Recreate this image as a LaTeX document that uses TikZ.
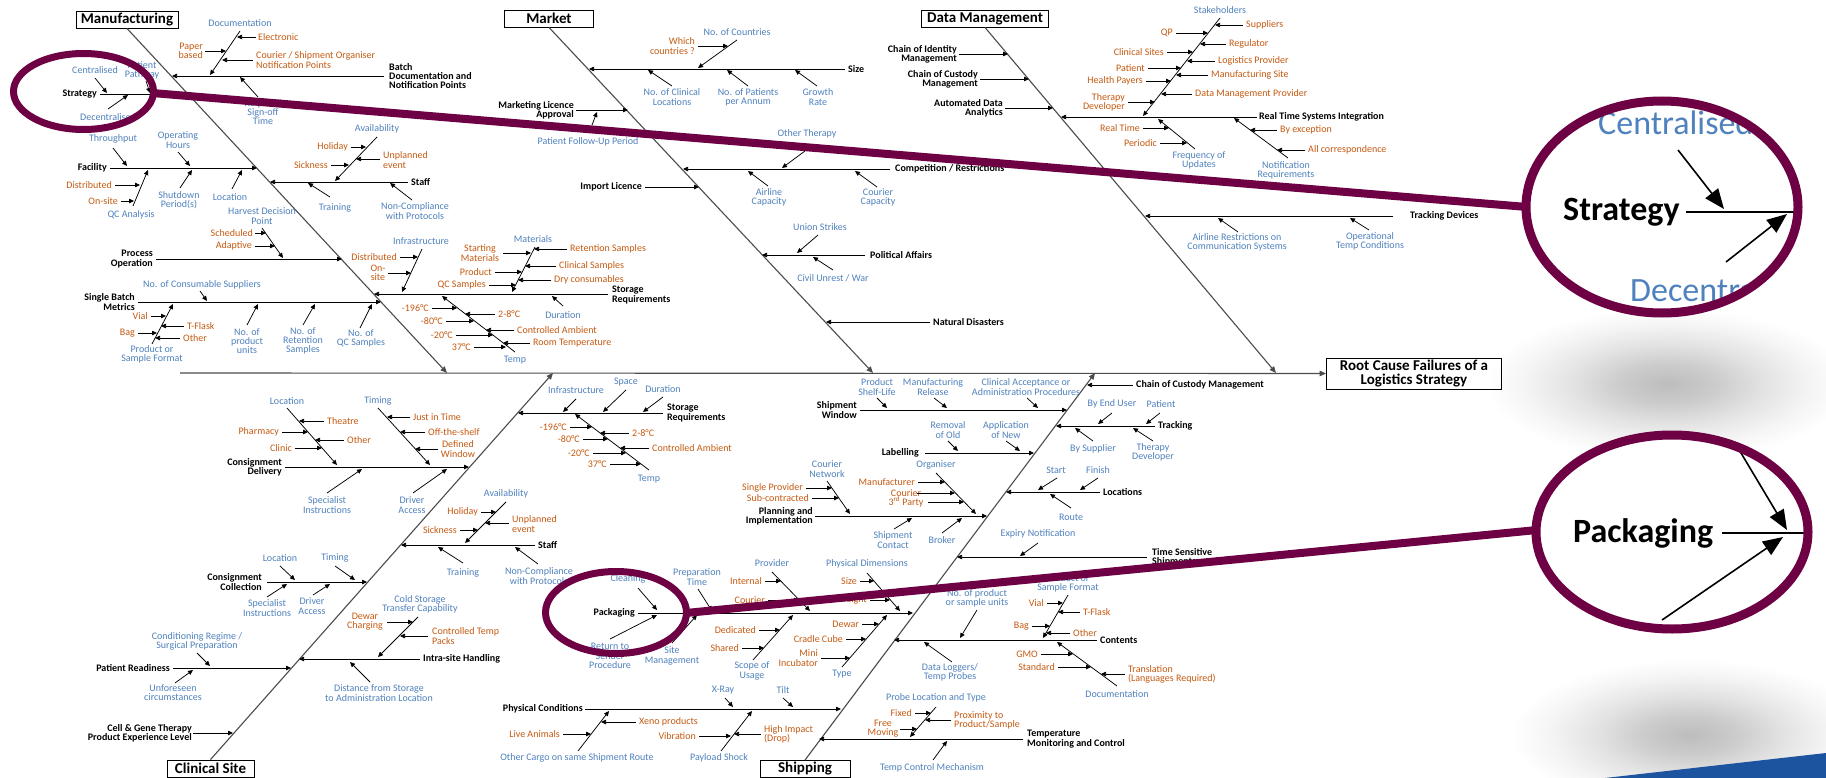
\documentclass[tikz,border=0pt]{standalone}
\usepackage{fontspec}
\setmainfont{Carlito}
\usetikzlibrary{arrows.meta}
\definecolor{cblue}{RGB}{79,129,189}
\definecolor{corange}{RGB}{197,90,17}
\definecolor{cmag}{RGB}{110,0,68}
\definecolor{cband}{RGB}{28,84,160}
\pgfdeclareradialshading{blob}{\pgfpoint{0bp}{0bp}}{color(0bp)=(black!26); color(5bp)=(black!20); color(10bp)=(black!11); color(15bp)=(black!4); color(19bp)=(white); color(25bp)=(white); color(50bp)=(white)}
% label: style, name, position, text
\newcommand\Tx[4]{\node[#1] (#2) at (#3) {#4};}
% arrow between two named coordinates
\newcommand\Ar[3]{\coordinate (#1-s) at (#2);\coordinate (#1-e) at (#3);\draw[arr] (#1-s) -- (#1-e);}
\begin{document}
\begin{tikzpicture}[x=1pt,y=-1pt,
  bl/.style={inner sep=0pt,text=cblue,font={\fontsize{10}{9.2}\selectfont}},
  og/.style={inner sep=0pt,text=corange,font={\fontsize{10}{9.2}\selectfont}},
  bk/.style={inner sep=0pt,text=black,font={\bfseries\fontsize{10}{9.2}\selectfont}},
  ae/.style={anchor=east,align=right},
  aw/.style={anchor=west,align=left},
  ac/.style={anchor=center,align=center},
  arr/.style={-{Triangle[length=5pt,width=4.5pt]},line width=0.75pt},
  bone/.style={-{Triangle[length=6.5pt,width=5.5pt]},line width=1.1pt,draw=black!70},
  ttl/.style={draw,line width=0.9pt,font={\bfseries\fontsize{15}{15}\selectfont},inner sep=0pt,minimum height=17pt},
  bigarr/.style={-{Triangle[length=20pt,width=16pt]},line width=1.6pt},
  lens/.style={draw=cmag,line width=9pt},
  ring/.style={draw=cmag,line width=7pt},
  link/.style={draw=cmag,line width=8pt}]
\useasboundingbox (0,0) rectangle (1826,778);
\fill[white] (0,0) rectangle (1826,778);

% soft shadows and corner band
\shade[shading=blob] (1668,384) ellipse [x radius=240, y radius=100];
\shade[shading=blob] (1690,735) ellipse [x radius=235, y radius=100];
\fill[cband] (1605,778) -- (1826,753) -- (1826,778) -- cycle;

% ===== spine and effect box =====
\node[ttl,minimum width=175pt,minimum height=31pt,align=center,font={\bfseries\fontsize{15}{14}\selectfont}] (root) at (1414,373.5) {Root Cause Failures of a\\Logistics Strategy};
\coordinate (spine-s) at (180,373);
\draw[bone] (spine-s) -- (root.west);

% ===== category boxes and main bones =====
\node[ttl,minimum width=102pt] (manuf) at (127,19.5) {Manufacturing};
\coordinate (manuf-end) at (447,373);
\draw[bone] (manuf.south) -- (manuf-end);
\node[ttl,minimum width=89pt] (market) at (549,18.5) {Market};
\coordinate (market-end) at (873,373);
\draw[bone] (market.south) -- (market-end);
\node[ttl,minimum width=127pt] (dm) at (985,18.5) {Data Management};
\coordinate (dm-end) at (1276,373);
\draw[bone] (dm.south) -- (dm-end);
\node[ttl,minimum width=87pt] (clin) at (210.5,768.5) {Clinical Site};
\coordinate (clin-end) at (553,373);
\draw[bone] (clin.north) -- (clin-end);
\node[ttl,minimum width=90pt] (ship) at (805,769) {Shipping};
\coordinate (ship-end) at (1095,373);
\draw[bone] (ship.north) -- (ship-end);

% ===== Manufacturing =====
\Tx{bk,aw}{batch}{389,76}{Batch\\Documentation and\\Notification Points}
\Ar{batchl}{384,76}{172,76}
\Tx{bl,ac}{docu}{240,23}{Documentation}
\Ar{docul}{240,31}{210,75}
\Tx{og,aw}{elec}{258,37}{Electronic}
\Ar{elecl}{256,37}{237,37}
\Tx{og,ae}{paper}{203,51}{Paper\\based}
\Ar{paperl}{205,51}{226,51}
\Tx{og,aw}{cour}{256,60}{Courier / Shipment Organiser\\Notification Points}
\Ar{courl}{253,60}{222,60}
\Tx{bl,ac}{signoff}{263,112}{Required\\Sign-off\\Time}
\Ar{signoffl}{258,97}{240,77}

\Tx{bk,ae}{strat}{97,94}{Strategy}
\Ar{stratl}{100,94}{189,94}
\Tx{bl,ac}{central}{95,70}{Centralised}
\Ar{centrall}{95,78}{107,93}
\Tx{bl,ac}{decent}{108,117}{Decentralised}
\Ar{decentl}{108,109}{128,95}
\Tx{bl,ac}{pathw}{142,70}{Patient\\Pathway}
\Ar{pathwl}{146,81}{150,93}

\Tx{bk,ae}{facil}{107,168}{Facility}
\Ar{facill}{110,168}{257,168}
\Tx{bl,ac}{thru}{113,139}{Throughput}
\Ar{thrul}{113,148}{127,166}
\Tx{bl,ac}{ophrs}{178,140}{Operating\\Hours}
\Ar{ophrsl}{178,152}{190,166}
\Tx{bl,ac}{shut}{179,200}{Shutdown\\Period(s)}
\Ar{shutl}{180,188}{192,170}
\Tx{bl,ac}{floc}{230,197}{Location}
\Ar{flocl}{232,189}{242,170}
\Tx{bl,ac}{qca}{131,215}{QC Analysis}
\Ar{qcal}{133,206}{148,170}
\Tx{og,ae}{fdist}{112,185}{Distributed}
\Ar{fdistl}{115,185}{140,185}
\Tx{og,ae}{fons}{118,201}{On-site}
\Ar{fonsl}{121,201}{134,201}

\Tx{bk,aw}{mstaff}{411,182}{Staff}
\Ar{mstaffl}{408,182}{270,182}
\Tx{bl,ac}{mtrain}{335,208}{Training}
\Ar{mtrainl}{330,197}{308,183}
\Tx{bl,ac}{mnonc}{415,211}{Non-Compliance\\with Protocols}
\Ar{mnoncl}{412,200}{390,183}
\Tx{bl,ac}{mavail}{377,129}{Availability}
\Ar{mavaill}{377,137}{335,181}
\Tx{og,ae}{mhol}{348,147}{Holiday}
\Ar{mholl}{351,147}{366,147}
\Tx{og,ae}{msick}{328,165}{Sickness}
\Ar{msickl}{331,165}{349,165}
\Tx{og,aw}{munpl}{383,160}{Unplanned\\event}
\Ar{munpll}{380,159}{356,159}

\Tx{bk,ae}{proc}{153,259}{Process\\Operation}
\Ar{procl}{156,259}{342,259}
\Tx{bl,ac}{harv}{262,216}{Harvest Decision\\Point}
\Ar{harvl}{262,228}{283,258}
\Tx{og,ae}{sched}{253,233}{Scheduled}
\Ar{schedl}{255,233}{266,233}
\Tx{og,ae}{adapt}{252,246}{Adaptive}
\Ar{adaptl}{255,246}{275,246}

\Tx{bk,aw}{mstor}{612,295}{Storage\\Requirements}
\Ar{mstorl}{608,294}{374,294}
\Tx{bl,ac}{minfra}{421,241}{Infrastructure}
\Ar{minfral}{422,249}{402,292}
\Tx{og,ae}{mdist}{397,257}{Distributed}
\Ar{mdistl}{400,257}{418,257}
\Tx{og,ac}{mons}{378,273}{On-\\site}
\Ar{monsl}{388,273}{411,273}
\Tx{bl,ac}{mmat}{533,239}{Materials}
\Ar{mmatl}{535,247}{512,292}
\Tx{og,ac}{mstart}{480,253}{Starting\\Materials}
\Ar{mstartl}{503,253}{531,253}
\Tx{og,aw}{mret}{570,249}{Retention Samples}
\Ar{mretl}{567,249}{534,249}
\Tx{og,aw}{mclin}{559,266}{Clinical Samples}
\Ar{mclinl}{556,266}{525,266}
\Tx{og,ae}{mprod}{492,272}{Product}
\Ar{mprodl}{495,272}{522,272}
\Tx{og,aw}{mdry}{554,280}{Dry consumables}
\Ar{mdryl}{551,280}{518,280}
\Tx{og,ae}{mqcs}{486,285}{QC Samples}
\Ar{mqcsl}{489,285}{516,285}
\Tx{bl,ac}{mdur}{563,315}{Duration}
\Ar{mdurl}{563,306}{552,296}
\Tx{bl,ac}{mtemp}{515,360}{Temp}
\Ar{mtempl}{515,352}{442,296}
\Tx{og,ae}{m196}{429,308}{-196°C}
\Ar{m196l}{432,308}{457,308}
\Tx{og,aw}{m28}{498,314}{2-8°C}
\Ar{m28l}{495,314}{465,314}
\Tx{og,ae}{m80}{443,321}{-80°C}
\Ar{m80l}{446,321}{474,321}
\Tx{og,aw}{mamb}{517,330}{Controlled Ambient}
\Ar{mambl}{514,330}{486,330}
\Tx{og,ae}{m20}{453,335}{-20°C}
\Ar{m20l}{456,335}{493,335}
\Tx{og,aw}{mroom}{533,343}{Room Temperature}
\Ar{mrooml}{530,343}{503,343}
\Tx{og,ae}{m37}{471,347}{37°C}
\Ar{m37l}{474,347}{506,347}

\Tx{bk,ae}{single}{135,302}{Single Batch\\Metrics}
\Ar{singlel}{138,302}{381,302}
\Tx{bl,ac}{ncons}{202,285}{No. of Consumable Suppliers}
\Ar{nconsl}{200,291}{207,301}
\Tx{bl,ac}{nprod}{247,341}{No. of\\product\\units}
\Ar{nprodl}{247,325}{258,304}
\Tx{bl,ac}{nret}{303,341}{No. of\\Retention\\Samples}
\Ar{nretl}{303,325}{315,304}
\Tx{bl,ac}{nqc}{361,338}{No. of\\QC Samples}
\Ar{nqcl}{360,328}{372,304}
\Tx{bl,ac}{mpsf}{152,354}{Product or\\Sample Format}
\Ar{mpsfl}{152,344}{173,304}
\Tx{og,ae}{mvial}{148,316}{Vial}
\Ar{mviall}{151,316}{166,316}
\Tx{og,aw}{mtfl}{187,326}{T-Flask}
\Ar{mtfll}{184,326}{161,326}
\Tx{og,ae}{mbag}{135,333}{Bag}
\Ar{mbagl}{138,333}{157,333}
\Tx{og,aw}{moth}{183,338}{Other}
\Ar{mothl}{180,338}{155,338}

% ===== Market =====
\Tx{bk,aw}{size}{848,69}{Size}
\Ar{sizel}{845,69}{589,69}
\Tx{bl,ac}{ncountry}{737,32}{No. of Countries}
\Ar{ncountryl}{737,40}{698,68}
\Tx{og,ae}{which}{695,46}{Which\\countries ?}
\Ar{whichl}{698,46}{728,46}
\Tx{bl,ac}{nclin}{672,97}{No. of Clinical\\Locations}
\Ar{nclinl}{672,86}{648,70}
\Tx{bl,ac}{npat}{748,97}{No. of Patients\\per Annum}
\Ar{npatl}{748,86}{727,70}
\Tx{bl,ac}{growth}{818,97}{Growth\\Rate}
\Ar{growthl}{817,86}{795,70}

\Tx{bk,ae}{mla}{574,110}{Marketing Licence\\Approval}
\Ar{mlal}{576,110}{628,110}
\Tx{bl,ac}{pfup}{588,142}{Patient Follow-Up Period}
\Ar{pfupl}{592,125}{597,112}

\Tx{bk,aw}{comp}{895,169}{Competition / Restrictions}
\Ar{compl}{890,169}{683,169}
\Tx{bl,ac}{othth}{807,134}{Other Therapy}
\Ar{oththl}{805,151}{782,168}
\Tx{bl,ac}{aircap}{769,197}{Airline\\Capacity}
\Ar{aircapl}{768,186}{748,171}
\Tx{bl,ac}{courcap}{878,197}{Courier\\Capacity}
\Ar{courcapl}{877,187}{855,171}

\Tx{bk,ae}{implic}{642,187}{Import Licence}
\Ar{implicl}{645,187}{699,187}

\Tx{bk,aw}{polit}{870,255}{Political Affairs}
\Ar{politl}{865,255}{762,255}
\Tx{bl,ac}{union}{820,227}{Union Strikes}
\Ar{unionl}{818,235}{797,253}
\Tx{bl,ac}{civil}{833,278}{Civil Unrest / War}
\Ar{civill}{833,270}{813,257}

\Tx{bk,aw}{natural}{933,322}{Natural Disasters}
\Ar{naturall}{930,322}{826,322}

% ===== Data Management =====
\Tx{bk,ae}{coim}{957,54}{Chain of Identity\\Management}
\Ar{coiml}{959,54}{1008,54}
\Tx{bk,ae}{cocm}{978,79}{Chain of Custody\\Management}
\Ar{cocml}{980,79}{1029,79}
\Tx{bk,ae}{ada}{1003,108}{Automated Data\\Analytics}
\Ar{adal}{1005,108}{1053,108}
\Tx{bk,aw}{rtsi}{1259,117}{Real Time Systems Integration}
\Ar{rtsil}{1257,117}{1061,117}
\Tx{bl,ac}{stake}{1220,10}{Stakeholders}
\Ar{stakel}{1220,18}{1143,116}
\Tx{og,ae}{qp}{1173,33}{QP}
\Ar{qpl}{1176,33}{1208,33}
\Tx{og,aw}{suppl}{1246,25}{Suppliers}
\Ar{suppll}{1243,25}{1215,25}
\Tx{og,ae}{clsites}{1164,52}{Clinical Sites}
\Ar{clsitesl}{1167,52}{1193,52}
\Tx{og,aw}{regul}{1229,44}{Regulator}
\Ar{regull}{1226,44}{1200,44}
\Tx{og,aw}{logp}{1218,61}{Logistics Provider}
\Ar{logpl}{1215,61}{1187,61}
\Tx{og,ae}{dmpat}{1145,68}{Patient}
\Ar{dmpatl}{1148,68}{1181,68}
\Tx{og,aw}{mfsite}{1211,75}{Manufacturing Site}
\Ar{mfsitel}{1208,75}{1176,75}
\Tx{og,ae}{hpay}{1143,81}{Health Payers}
\Ar{hpayl}{1146,81}{1171,81}
\Tx{og,aw}{dmprov}{1195,94}{Data Management Provider}
\Ar{dmprovl}{1192,94}{1161,94}
\Tx{og,ae}{thdev}{1125,102}{Therapy\\Developer}
\Ar{thdevl}{1128,102}{1155,102}
\Tx{bl,ac}{freq}{1199,160}{Frequency of\\Updates}
\Ar{freql}{1195,149}{1158,119}
\Tx{og,ae}{rtime}{1140,128}{Real Time}
\Ar{rtimel}{1143,128}{1169,128}
\Tx{og,ae}{period}{1157,143}{Periodic}
\Ar{periodl}{1160,143}{1187,143}
\Tx{bl,ac}{notif}{1286,170}{Notification\\Requirements}
\Ar{notifl}{1288,158}{1234,118}
\Tx{og,aw}{byexc}{1280,130}{By exception}
\Ar{byexcl}{1277,130}{1250,130}
\Tx{og,aw}{allcor}{1308,150}{All correspondence}
\Ar{allcorl}{1305,150}{1277,150}
\Tx{bk,aw}{trdev}{1410,216}{Tracking Devices}
\Ar{trdevl}{1393,216}{1145,216}
\Tx{bl,ac}{airres}{1237,242}{Airline Restrictions on\\Communication Systems}
\Ar{airresl}{1238,232}{1218,218}
\Tx{bl,ac}{optemp}{1370,241}{Operational\\Temp Conditions}
\Ar{optempl}{1369,230}{1350,218}

% ===== Clinical Site =====
\Tx{bk,aw}{cstor}{667,413}{Storage\\Requirements}
\Ar{cstorl}{663,413}{518,413}
\Tx{bl,ac}{cinfra}{576,390}{Infrastructure}
\Ar{cinfral}{576,399}{563,412}
\Tx{bl,ac}{cspace}{626,382}{Space}
\Ar{cspacel}{626,390}{603,412}
\Tx{bl,ac}{cdur}{663,389}{Duration}
\Ar{cdurl}{663,397}{643,412}
\Tx{bl,ac}{ctemp}{649,479}{Temp}
\Ar{ctempl}{649,470}{575,414}
\Tx{og,ae}{c196}{567,427}{-196°C}
\Ar{c196l}{570,427}{592,427}
\Tx{og,aw}{c28}{632,433}{2-8°C}
\Ar{c28l}{629,433}{600,433}
\Tx{og,ae}{c80}{580,439}{-80°C}
\Ar{c80l}{583,439}{608,439}
\Tx{og,aw}{camb}{652,448}{Controlled Ambient}
\Ar{cambl}{649,448}{620,448}
\Tx{og,ae}{c20}{590,453}{-20°C}
\Ar{c20l}{593,453}{626,453}
\Tx{og,ae}{c37}{607,464}{37°C}
\Ar{c37l}{610,464}{641,464}

\Tx{bk,ae}{cdel}{282,467}{Consignment\\Delivery}
\Ar{cdell}{285,467}{469,467}
\Tx{bl,ac}{cdloc}{287,401}{Location}
\Ar{cdlocl}{287,408}{337,465}
\Tx{og,aw}{theat}{327,421}{Theatre}
\Ar{theatl}{324,421}{299,421}
\Tx{og,ae}{pharm}{279,432}{Pharmacy}
\Ar{pharml}{282,432}{308,432}
\Tx{og,aw}{cdoth}{347,440}{Other}
\Ar{cdothl}{344,440}{315,440}
\Tx{og,ae}{clinic}{292,448}{Clinic}
\Ar{clinicl}{295,448}{322,448}
\Tx{bl,ac}{cdtim}{378,401}{Timing}
\Ar{cdtiml}{378,408}{430,465}
\Tx{og,aw}{jit}{413,417}{Just in Time}
\Ar{jitl}{410,417}{387,417}
\Tx{og,aw}{ots}{428,432}{Off-the-shelf}
\Ar{otsl}{425,432}{400,432}
\Tx{og,ac}{defw}{458,449}{Defined\\Window}
\Ar{defwl}{438,449}{415,449}
\Tx{bl,ac}{cdspec}{327,505}{Specialist\\Instructions}
\Ar{cdspecl}{327,493}{362,469}
\Tx{bl,ac}{cddrv}{412,505}{Driver\\Access}
\Ar{cddrvl}{413,493}{447,469}

\Tx{bk,aw}{cstaff}{538,545}{Staff}
\Ar{cstaffl}{535,545}{401,545}
\Tx{bl,ac}{cavail}{506,494}{Availability}
\Ar{cavaill}{506,502}{465,543}
\Tx{og,ae}{chol}{478,512}{Holiday}
\Ar{choll}{481,512}{496,512}
\Tx{og,ae}{csick}{457,530}{Sickness}
\Ar{csickl}{460,530}{478,530}
\Tx{og,aw}{cunpl}{512,524}{Unplanned\\event}
\Ar{cunpll}{509,523}{485,523}
\Tx{bl,ac}{ctrain}{463,573}{Training}
\Ar{ctrainl}{463,563}{438,547}
\Tx{bl,ac}{cnonc}{539,576}{Non-Compliance\\with Protocols}
\Ar{cnoncl}{538,564}{515,547}

\Tx{bk,ae}{ccol}{262,582}{Consignment\\Collection}
\Ar{ccoll}{267,582}{367,582}
\Tx{bl,ac}{ccloc}{280,558}{Location}
\Ar{cclocl}{280,566}{295,580}
\Tx{bl,ac}{cctim}{335,558}{Timing}
\Ar{cctiml}{335,566}{355,580}
\Tx{bl,ac}{ccspec}{267,608}{Specialist\\Instructions}
\Ar{ccspecl}{267,597}{287,584}
\Tx{bl,ac}{ccdrv}{312,606}{Driver\\Access}
\Ar{ccdrvl}{313,595}{330,584}

\Tx{bk,aw}{intra}{423,659}{Intra-site Handling}
\Ar{intral}{420,659}{299,659}
\Tx{bl,ac}{cold}{420,604}{Cold Storage\\Transfer Capability}
\Ar{coldl}{418,617}{378,657}
\Tx{og,ac}{dewch}{365,622}{Dewar\\Charging}
\Ar{dewchl}{387,622}{413,622}
\Tx{og,aw}{ctp}{432,636}{Controlled Temp\\Packs}
\Ar{ctpl}{428,636}{400,636}
\Tx{bl,ac}{dist}{379,693}{Distance from Storage\\to Administration Location}
\Ar{distl}{370,682}{350,662}

\Tx{bk,ae}{patr}{170,668}{Patient Readiness}
\Ar{patrl}{173,668}{291,668}
\Tx{bl,ac}{cond}{197,641}{Conditioning Regime /\\Surgical Preparation}
\Ar{condl}{197,653}{210,666}
\Tx{bl,ac}{unfor}{173,693}{Unforeseen\\circumstances}
\Ar{unforl}{175,683}{193,670}

\Tx{bk,ae}{cgt}{192,733}{Cell \& Gene Therapy\\Product Experience Level}
\Ar{cgtl}{193,733}{233,733}

% ===== Shipping =====
\Tx{bk,aw}{shcoc}{1136,385}{Chain of Custody Management}
\Ar{shcocl}{1133,385}{1087,385}
\Tx{bk,ae}{shwin}{857,410}{Shipment\\Window}
\Ar{shwinl}{860,410}{1067,410}
\Tx{bl,ac}{shelf}{877,387}{Product\\Shelf-Life}
\Ar{shelfl}{877,398}{887,408}
\Tx{bl,ac}{mfrel}{933,387}{Manufacturing\\Release}
\Ar{mfrell}{934,398}{947,408}
\Tx{bl,ac}{clacc}{1026,387}{Clinical Acceptance or\\Administration Procedures}
\Ar{claccl}{1027,398}{1038,408}
\Tx{bk,aw}{track}{1158,426}{Tracking}
\Ar{trackl}{1155,426}{1056,426}
\Tx{bl,ac}{byend}{1112,404}{By End User}
\Ar{byendl}{1112,413}{1098,424}
\Tx{bl,ac}{trpat}{1161,404}{Patient}
\Ar{trpatl}{1160,413}{1146,424}
\Tx{bl,ac}{bysup}{1093,449}{By Supplier}
\Ar{bysupl}{1093,441}{1075,428}
\Tx{bl,ac}{trdevp}{1153,452}{Therapy\\Developer}
\Ar{trdevpl}{1153,441}{1133,428}
\Tx{bk,ae}{labl}{919,453}{Labelling}
\Ar{labll}{925,453}{1034,453}
\Tx{bl,ac}{remold}{948,430}{Removal\\of Old}
\Ar{remoldl}{948,441}{958,451}
\Tx{bl,ac}{appnew}{1006,430}{Application\\of New}
\Ar{appnewl}{1006,441}{1020,451}
\Tx{bk,aw}{locs}{1103,492}{Locations}
\Ar{locsl}{1100,492}{1006,492}
\Tx{bl,ac}{lstart}{1056,470}{Start}
\Ar{lstartl}{1057,478}{1038,490}
\Tx{bl,ac}{lfin}{1098,470}{Finish}
\Ar{lfinl}{1098,478}{1080,490}
\Tx{bl,ac}{lroute}{1071,517}{Route}
\Ar{lroutel}{1071,508}{1050,494}
\Tx{bk,ae}{plan}{813,516}{Planning and\\Implementation}
\Ar{planl}{815,516}{987,516}
\Tx{bl,ac}{cnet}{827,469}{Courier\\Network}
\Ar{cnetl}{827,481}{850,514}
\Tx{og,ae}{sprov}{803,488}{Single Provider}
\Ar{sprovl}{806,488}{832,488}
\Tx{og,ae}{subc}{809,498}{Sub-contracted}
\Ar{subcl}{812,498}{839,498}
\Tx{bl,ac}{organ}{936,465}{Organiser}
\Ar{organl}{936,473}{976,514}
\Tx{og,ae}{manu}{915,482}{Manufacturer}
\Ar{manul}{918,482}{945,482}
\Tx{og,ac}{c3p}{906,498}{Courier\\3\textsuperscript{rd} Party}
\Ar{c3pa}{917,493}{955,493}
\Ar{c3pb}{928,502}{964,502}
\Tx{bl,ac}{shcont}{893,540}{Shipment\\Contact}
\Ar{shcontl}{894,529}{912,518}
\Tx{bl,ac}{broker}{942,540}{Broker}
\Ar{brokerl}{942,533}{962,518}
\Tx{bk,aw}{tss}{1152,557}{Time Sensitive\\Shipments}
\Ar{tssl}{1147,557}{957,557}
\Tx{bl,ac}{expiry}{1038,534}{Expiry Notification}
\Ar{expiryl}{1038,543}{1020,556}

\Tx{bk,ae}{pack}{635,613}{Packaging}
\Ar{packl}{638,613}{913,613}
\Tx{bl,ac}{clean}{628,579}{Cleaning}
\Ar{cleanl}{638,588}{657,610}
\Tx{bl,ac}{retsend}{610,656}{Return to\\Sender\\Procedure}
\Ar{retsendl}{610,639}{657,615}
\Tx{bl,ac}{prept}{697,577}{Preparation\\Time}
\Ar{preptl}{698,589}{712,611}
\Tx{bl,ac}{sitem}{672,656}{Site\\Management}
\Ar{siteml}{672,643}{697,615}
\Tx{bl,ac}{provid}{772,563}{Provider}
\Ar{providl}{772,572}{810,611}
\Tx{og,ae}{pint}{762,581}{Internal}
\Ar{pintl}{765,581}{781,581}
\Tx{og,ae}{pcour}{765,600}{Courier}
\Ar{pcourl}{768,600}{799,600}
\Tx{bl,ac}{phdim}{867,564}{Physical Dimensions}
\Ar{phdiml}{867,573}{900,611}
\Tx{og,ae}{psize}{857,581}{Size}
\Ar{psizel}{860,581}{874,581}
\Tx{og,ae}{pweight}{867,600}{Weight}
\Ar{pweightl}{870,600}{890,600}
\Tx{bl,ac}{scope}{752,671}{Scope of\\Usage}
\Ar{scopel}{753,660}{793,615}
\Tx{og,ae}{pded}{756,630}{Dedicated}
\Ar{pdedl}{759,630}{780,630}
\Tx{og,ae}{pshar}{739,648}{Shared}
\Ar{psharl}{742,648}{764,648}
\Tx{bl,ac}{ptype}{842,674}{Type}
\Ar{ptypel}{842,667}{887,615}
\Tx{og,ae}{pdew}{859,624}{Dewar}
\Ar{pdewl}{862,624}{879,624}
\Tx{og,ae}{pcrad}{843,639}{Cradle Cube}
\Ar{pcradl}{846,639}{866,639}
\Tx{og,ae}{pmini}{818,658}{Mini\\Incubator}
\Ar{pminil}{821,658}{850,658}

\Tx{bk,aw}{cont}{1100,640}{Contents}
\Ar{contl}{1097,640}{894,640}
\Tx{bl,ac}{nunits}{977,598}{No. of product\\or sample units}
\Ar{nunitsl}{977,610}{960,638}
\Tx{bl,ac}{dlog}{950,672}{Data Loggers/\\Temp Probes}
\Ar{dlogl}{952,662}{924,642}
\Tx{bl,ac}{spsf}{1068,583}{Product or\\Sample Format}
\Ar{spsfl}{1068,595}{1043,638}
\Tx{og,ae}{svial}{1044,603}{Vial}
\Ar{sviall}{1047,603}{1063,603}
\Tx{og,aw}{stfl}{1083,612}{T-Flask}
\Ar{stfll}{1080,612}{1058,612}
\Tx{og,ae}{sbag}{1029,626}{Bag}
\Ar{sbagl}{1032,626}{1050,626}
\Tx{og,aw}{soth}{1073,633}{Other}
\Ar{sothl}{1070,633}{1046,633}
\Tx{bl,ac}{sdoc}{1117,694}{Documentation}
\Ar{sdocl}{1117,686}{1057,642}
\Tx{og,ae}{gmo}{1038,654}{GMO}
\Ar{gmol}{1041,654}{1073,654}
\Tx{og,ae}{stand}{1055,667}{Standard}
\Ar{standl}{1058,667}{1091,667}
\Tx{og,aw}{transl}{1128,674}{Translation\\(Languages Required)}
\Ar{transll}{1125,674}{1101,674}

\Tx{bk,ae}{phys}{583,709}{Physical Conditions}
\Ar{physl}{585,709}{841,709}
\Tx{bl,ac}{xray}{723,690}{X-Ray}
\Ar{xrayl}{725,698}{733,707}
\Tx{bl,ac}{tilt}{783,690}{Tilt}
\Ar{tiltl}{783,698}{793,707}
\Tx{bl,ac}{ocargo}{577,758}{Other Cargo on same Shipment Route}
\Ar{ocargol}{578,751}{609,711}
\Tx{og,aw}{xeno}{639,722}{Xeno products}
\Ar{xenol}{636,722}{601,722}
\Tx{og,ae}{live}{560,734}{Live Animals}
\Ar{livel}{563,734}{591,734}
\Tx{bl,ac}{payl}{719,758}{Payload Shock}
\Ar{payll}{721,751}{752,711}
\Tx{og,ae}{vibr}{696,736}{Vibration}
\Ar{vibrl}{699,736}{731,736}
\Tx{og,aw}{himp}{764,734}{High Impact\\(Drop)}
\Ar{himpl}{761,734}{734,734}

\Tx{bk,aw}{tmc}{1027,739}{Temperature\\Monitoring and Control}
\Ar{tmcl}{1023,739}{819,739}
\Tx{bl,ac}{probe}{936,698}{Probe Location and Type}
\Ar{probel}{936,707}{910,737}
\Tx{og,ae}{fixed}{912,713}{Fixed}
\Ar{fixedl}{915,713}{931,713}
\Tx{og,aw}{prox}{954,720}{Proximity to\\Product/Sample}
\Ar{proxl}{951,720}{925,720}
\Tx{og,ac}{freem}{883,729}{Free\\Moving}
\Ar{freeml}{900,729}{917,729}
\Tx{bl,ac}{tcm}{932,768}{Temp Control Mechanism}
\Ar{tcml}{933,760}{947,741}

% ===== magnified views =====
\begin{scope}
\clip (1662,207) ellipse [x radius=132, y radius=102];
\fill[white] (1520,95) rectangle (1810,320);
\node[inner sep=0pt,anchor=west,text=cblue,font={\fontsize{34}{34}\selectfont}] (zcen) at (1598,123) {Centralised};
\node[inner sep=0pt,anchor=west,font={\bfseries\fontsize{34}{34}\selectfont}] (zstr) at (1563,212) {Strategy};
\coordinate (zline-s) at (1686,212);
\coordinate (zline-e) at (1810,212);
\draw[line width=1.6pt] (zline-s) -- (zline-e);
\coordinate (zc-s) at (1678,150);
\coordinate (zc-e) at (1724,209);
\draw[bigarr] (zc-s) -- (zc-e);
\coordinate (zd-s) at (1726,262);
\coordinate (zd-e) at (1787,214);
\draw[bigarr] (zd-s) -- (zd-e);
\node[inner sep=0pt,anchor=west,text=cblue,font={\fontsize{34}{34}\selectfont}] (zdec) at (1630,290) {Decentralised};
\end{scope}
\begin{scope}
\clip (1672,532) ellipse [x radius=132, y radius=93];
\fill[white] (1530,430) rectangle (1815,635);
\node[inner sep=0pt,anchor=west,font={\bfseries\fontsize{34}{34}\selectfont}] (zpack) at (1573,533) {Packaging};
\coordinate (zp-s) at (1722,533);
\coordinate (zp-e) at (1815,533);
\draw[line width=1.6pt] (zp-s) -- (zp-e);
\coordinate (zu-s) at (1738,448);
\coordinate (zu-e) at (1787,530);
\draw[bigarr] (zu-s) -- (zu-e);
\coordinate (zl-s) at (1662,620);
\coordinate (zl-e) at (1783,537);
\draw[bigarr] (zl-s) -- (zl-e);
\end{scope}

\coordinate (spotA) at (152,93);
\coordinate (lensA) at (1527,207);
\draw[link] (spotA) -- (lensA);
\coordinate (spotB) at (686,613);
\coordinate (lensB) at (1537,530);
\draw[link] (spotB) -- (lensB);
\draw[ring] (83.5,91.5) ellipse [x radius=70, y radius=38];
\draw[ring] (616,612.5) ellipse [x radius=70.5, y radius=41];
\draw[lens] (1662,207) ellipse [x radius=136, y radius=106];
\draw[lens] (1672,532) ellipse [x radius=136, y radius=97];
\end{tikzpicture}
\end{document}
